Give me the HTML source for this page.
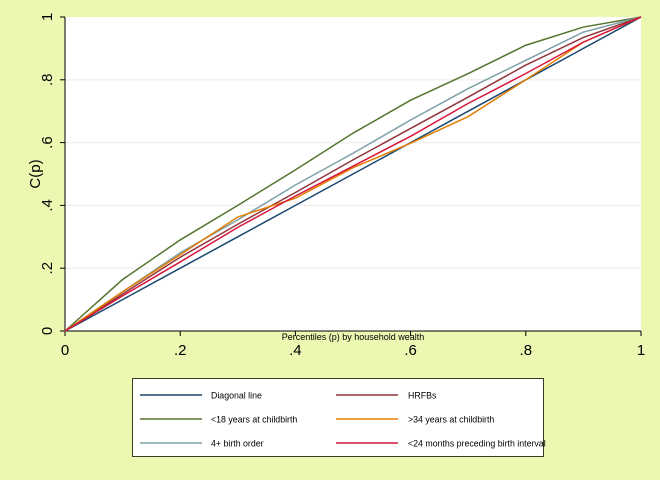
<!DOCTYPE html>
<html><head><meta charset="utf-8"><style>
body{margin:0;background:#eaf8b2;}
svg{display:block;font-family:"Liberation Sans",sans-serif;}
</style></head><body>
<svg id="chart" width="660" height="480">
<rect x="0" y="0" width="660" height="480" fill="#eaf8b2"/>
<rect x="65" y="17" width="576" height="314" fill="#ffffff"/>
<g id="grid"></g>
<g id="axes"></g>
<g id="series"></g>
<text x="353" y="340" font-size="9" text-anchor="middle">Percentiles (p) by household wealth</text>
<text transform="translate(40,174) rotate(-90)" font-size="15" text-anchor="middle">C(p)</text>
<rect x="132.5" y="378.5" width="411" height="78" fill="#ffffff" stroke="#3a3a20" stroke-width="1"/>
<g id="legend"></g>
</svg>
<script>
const pValues=[0,0.1,0.2,0.3,0.4,0.5,0.6,0.7,0.8,0.9,1];
const diagonal=[0,0.1,0.2,0.3,0.4,0.5,0.6,0.7,0.8,0.9,1];
const under18=[0,0.164,0.29,0.40,0.513,0.63,0.735,0.82,0.91,0.968,1];
const birthOrder4=[0,0.125,0.249,0.354,0.465,0.566,0.672,0.772,0.862,0.952,1];
const hrfbs=[0,0.118,0.235,0.34,0.441,0.545,0.645,0.745,0.847,0.935,1];
const over34=[0,0.125,0.243,0.363,0.423,0.52,0.598,0.683,0.8,0.92,1];
const interval24=[0,0.112,0.22,0.33,0.43,0.525,0.62,0.725,0.82,0.92,1];
const tickValues=[0,0.2,0.4,0.6,0.8,1];
const tickLabels=["0",".2",".4",".6",".8","1"];
const seriesNames=["Diagonal line","HRFBs","<18 years at childbirth",">34 years at childbirth","4+ birth order","<24 months preceding birth interval"];
const NS="http://www.w3.org/2000/svg";
const sx=v=>65+v*576, sy=v=>331-v*314;
function mk(tag,attrs,parent){const e=document.createElementNS(NS,tag);for(const k in attrs)e.setAttribute(k,attrs[k]);parent.appendChild(e);return e;}
const grid=document.getElementById('grid'),axes=document.getElementById('axes'),ser=document.getElementById('series'),leg=document.getElementById('legend');
tickValues.forEach((t,i)=>{
 if(t>0&&t<1){const g=mk('line',{x1:65,x2:641,y1:sy(t),y2:sy(t),stroke:'#eeeeee','stroke-width':1.2},grid);
 
 }
 const yt=mk('line',{x1:60,x2:65,y1:sy(t),y2:sy(t),stroke:'#000'},axes);
 
 
 const yl=mk('text',{x:0,y:0,'font-size':15,'text-anchor':'middle',transform:`translate(52,${sy(t)}) rotate(-90)`},axes);
 yl.textContent=tickLabels[i];
 
 
 const xt=mk('line',{x1:sx(t),x2:sx(t),y1:331,y2:336,stroke:'#000'},axes);
 
 
 const xl=mk('text',{x:sx(t),y:355,'font-size':15,'text-anchor':'middle'},axes);
 xl.textContent=tickLabels[i];
 
 
});
const ya=mk('line',{x1:65,x2:65,y1:17,y2:331,stroke:'#000'},axes);


const xa=mk('line',{x1:65,x2:641,y1:331,y2:331,stroke:'#000'},axes);


const allSeries=[[diagonal,'#1a476f','diagonal-line'],[under18,'#55752f','under-18-line'],[birthOrder4,'#7e9fa8','birth-order-4-line'],[hrfbs,'#90353b','hrfbs-line'],[over34,'#e37e00','over-34-line'],[interval24,'#d8153b','interval-24-line']];
allSeries.forEach(s=>{
 const pts=pValues.map((p,i)=>sx(p)+','+sy(s[0][i])).join(' ');
 const pl=mk('polyline',{points:pts,fill:'none',stroke:s[1],'stroke-width':1.5},ser);
 
 
});
const legColors=['#1a476f','#90353b','#55752f','#e37e00','#7e9fa8','#d8153b'];
seriesNames.forEach((n,i)=>{
 const col=i%2,row=Math.floor(i/2);
 const y=395+row*24;
 const lx=col?336:140, tx=col?408:211;
 const l=mk('line',{x1:lx,x2:lx+62,y1:y,y2:y,stroke:legColors[i],'stroke-width':1.5},leg);
 
 
 const t=mk('text',{x:tx,y:y+3.5,'font-size':8.8},leg);
 t.textContent=n;
 
 
});
</script>
</body></html>
